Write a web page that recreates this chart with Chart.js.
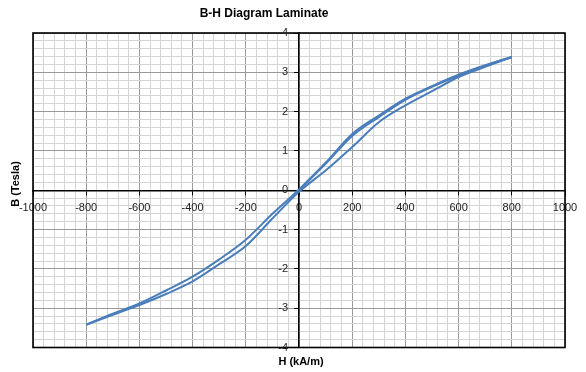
<!DOCTYPE html>
<html lang="en">

<head>
    <meta charset="UTF-8">
    <title>B-H Diagram Laminate</title>
    <script src="https://cdn.jsdelivr.net/npm/chart.js@4.4.1/dist/chart.umd.min.js"></script>
    <style>
        html, body { margin: 0; padding: 0; background: #fff; }
        #wrap { width: 586px; height: 372px; }
    </style>
</head>

<body>
    <div id="wrap"><canvas id="bhChart" width="586" height="372"></canvas></div>

    <script>
        // Field strength H (kA/m) sample points
        const hValues = [-800, -700, -600, -500, -400, -300, -200, -100, 0, 100, 200, 300, 400, 500, 600, 700, 800];
        // Flux density B (Tesla) on the rising and falling branches
        const bRising = [-3.42, -3.17, -2.92, -2.64, -2.32, -1.88, -1.42, -0.72, -0.04, 0.50, 1.10, 1.73, 2.16, 2.52, 2.88, 3.14, 3.39];
        const bFalling = [-3.42, -3.14, -2.88, -2.55, -2.20, -1.76, -1.26, -0.60, 0.02, 0.70, 1.43, 1.90, 2.33, 2.65, 2.94, 3.18, 3.39];
        // Initial magnetisation curve from the origin
        const hInitial = [0, 100, 200, 300, 400, 500, 600, 700, 800];
        const bInitial = [0.0, 0.67, 1.38, 1.86, 2.30, 2.63, 2.92, 3.17, 3.39];

        const xTickLabels = [-1000, -800, -600, -400, -200, 0, 200, 400, 600, 800, 1000];
        const yTickLabels = [-4, -3, -2, -1, 0, 1, 2, 3, 4];

        const LINE_BLUE = '#4a7ebb';
        const MAJOR_GRID = '#9a9a9a';
        const MINOR_GRID = '#d4d4d4';
        const TICK_FONT = '11px "Liberation Sans", Arial, sans-serif';

        function toPoints(xs, ys) {
            return xs.map((x, i) => ({ x: x, y: ys[i] }));
        }

        function isLabelled(value, list) {
            return list.some(v => Math.abs(v - value) < 1e-6);
        }

        // frame round the plot area, B tick labels, title and axis captions
        const frameAndCaptions = {
            id: 'frameAndCaptions',
            afterDraw(chart) {
                const { ctx, chartArea, scales } = chart;
                ctx.save();
                ctx.strokeStyle = '#000';
                ctx.lineWidth = 1.6;
                ctx.strokeRect(chartArea.left, chartArea.top, chartArea.right - chartArea.left, chartArea.bottom - chartArea.top);

                // B labels sit a little left of the centre axis
                const axisX = scales.x.getPixelForValue(0);
                ctx.fillStyle = '#222';
                ctx.font = TICK_FONT;
                ctx.textAlign = 'right';
                ctx.textBaseline = 'middle';
                yTickLabels.forEach(v => {
                    ctx.fillText(String(v), axisX - 11, scales.y.getPixelForValue(v));
                });

                ctx.fillStyle = '#000';
                ctx.textAlign = 'center';
                ctx.font = 'bold 12px "Liberation Sans", Arial, sans-serif';
                ctx.fillText('B-H Diagram Laminate', 264, 14);

                ctx.font = 'bold 11px "Liberation Sans", Arial, sans-serif';
                ctx.fillText('H (kA/m)', 301, 362);

                ctx.translate(16, 184);
                ctx.rotate(-Math.PI / 2);
                ctx.fillText('B (Tesla)', 0, 0);
                ctx.restore();
            }
        };

        const lineStyle = {
            showLine: true,
            borderColor: LINE_BLUE,
            borderWidth: 2,
            pointRadius: 0,
            cubicInterpolationMode: 'monotone',
            fill: false
        };

        new Chart(document.getElementById('bhChart'), {
            type: 'scatter',
            data: {
                datasets: [
                    Object.assign({ label: 'Rising', data: toPoints(hValues, bRising) }, lineStyle),
                    Object.assign({ label: 'Falling', data: toPoints(hValues, bFalling) }, lineStyle),
                    Object.assign({ label: 'Initial', data: toPoints(hInitial, bInitial) }, lineStyle)
                ]
            },
            options: {
                responsive: false,
                animation: false,
                layout: { padding: { left: 33, right: 21, top: 33, bottom: 24.5 } },
                plugins: {
                    legend: { display: false },
                    title: { display: false },
                    tooltip: { enabled: false }
                },
                scales: {
                    x: {
                        type: 'linear',
                        position: { y: 0 },
                        min: -1000,
                        max: 1000,
                        border: { color: '#000', width: 1.5 },
                        grid: {
                            color: c => isLabelled(c.tick.value, xTickLabels) ? MAJOR_GRID : MINOR_GRID,
                            tickColor: c => isLabelled(c.tick.value, xTickLabels) ? '#000' : 'rgba(0,0,0,0)',
                            tickLength: 4,
                            lineWidth: 1
                        },
                        ticks: {
                            stepSize: 40,
                            autoSkip: false,
                            maxRotation: 0,
                            padding: 7,
                            color: '#222',
                            font: { family: '"Liberation Sans", Arial, sans-serif', size: 11 },
                            callback: v => isLabelled(v, xTickLabels) ? String(Math.round(v)) : ''
                        }
                    },
                    y: {
                        type: 'linear',
                        position: { x: 0 },
                        min: -4,
                        max: 4,
                        border: { color: '#000', width: 1.5 },
                        grid: {
                            color: c => isLabelled(c.tick.value, yTickLabels) ? MAJOR_GRID : MINOR_GRID,
                            tickColor: c => isLabelled(c.tick.value, yTickLabels) ? '#000' : 'rgba(0,0,0,0)',
                            tickLength: 4,
                            lineWidth: 1
                        },
                        ticks: {
                            stepSize: 0.2,
                            autoSkip: false,
                            display: false
                        }
                    }
                }
            },
            plugins: [frameAndCaptions]
        });
    </script>
</body>

</html>
